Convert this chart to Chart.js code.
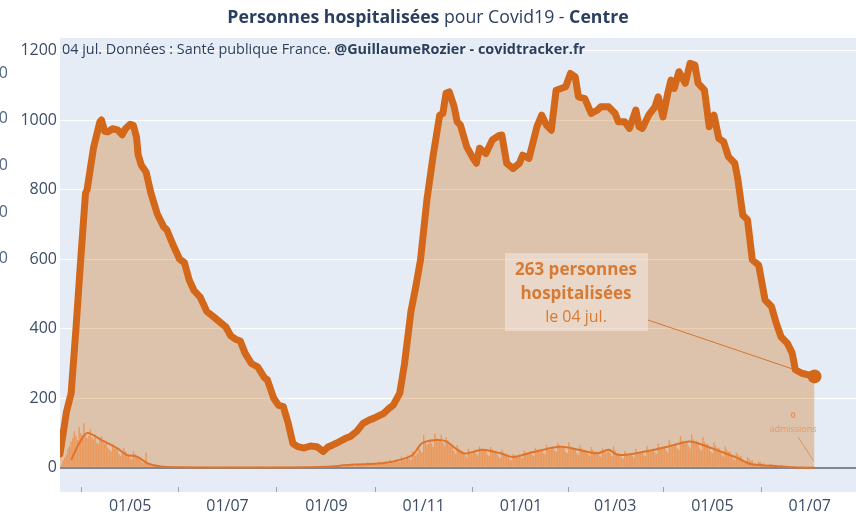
<!DOCTYPE html>
<html>
<head>
<meta charset="utf-8">
<script src="https://cdn.jsdelivr.net/npm/chart.js@4.4.1/dist/chart.umd.min.js"></script>
<style>
  html, body { margin: 0; padding: 0; background: #fff; }
  #wrap { width: 856px; height: 515px; position: relative; }
</style>
</head>
<body>
<div id="wrap"><canvas id="chart" width="856" height="515"></canvas></div>
<script>
/* ---------- data ---------- */
const hospDates = [
  "2020-03-18","2020-03-20","2020-03-22","2020-03-25","2020-03-28","2020-03-31","2020-04-03","2020-04-04",
  "2020-04-08","2020-04-12","2020-04-13","2020-04-15","2020-04-17","2020-04-20","2020-04-23","2020-04-26",
  "2020-04-28","2020-05-01","2020-05-03","2020-05-05","2020-05-06","2020-05-08","2020-05-11","2020-05-14",
  "2020-05-18","2020-05-22","2020-05-24","2020-05-28","2020-06-01","2020-06-04","2020-06-07","2020-06-10",
  "2020-06-14","2020-06-18","2020-06-22","2020-06-26","2020-06-30","2020-07-03","2020-07-06","2020-07-09",
  "2020-07-12","2020-07-16","2020-07-20","2020-07-24","2020-07-26","2020-07-30","2020-08-02","2020-08-05",
  "2020-08-08","2020-08-11","2020-08-14","2020-08-18","2020-08-22","2020-08-26","2020-08-30","2020-09-02",
  "2020-09-05","2020-09-09","2020-09-13","2020-09-16","2020-09-20","2020-09-24","2020-09-28","2020-10-01",
  "2020-10-04","2020-10-07","2020-10-10","2020-10-13","2020-10-17","2020-10-20","2020-10-24","2020-10-27",
  "2020-10-30","2020-11-03","2020-11-07","2020-11-11","2020-11-13","2020-11-15","2020-11-17","2020-11-20",
  "2020-11-22","2020-11-24","2020-11-28","2020-12-02","2020-12-04","2020-12-06","2020-12-10","2020-12-14",
  "2020-12-18","2020-12-20","2020-12-23","2020-12-27","2020-12-31","2021-01-02","2021-01-06","2021-01-11",
  "2021-01-14","2021-01-17","2021-01-20","2021-01-23","2021-01-29","2021-02-01","2021-02-04","2021-02-06",
  "2021-02-10","2021-02-14","2021-02-18","2021-02-20","2021-02-25","2021-03-01","2021-03-03","2021-03-07",
  "2021-03-10","2021-03-14","2021-03-16","2021-03-18","2021-03-22","2021-03-26","2021-03-28","2021-03-31",
  "2021-04-03","2021-04-05","2021-04-07","2021-04-10","2021-04-14","2021-04-17","2021-04-20","2021-04-22",
  "2021-04-26","2021-04-29","2021-05-02","2021-05-05","2021-05-08","2021-05-11","2021-05-15","2021-05-17",
  "2021-05-20","2021-05-23","2021-05-26","2021-05-30","2021-06-03","2021-06-07","2021-06-10","2021-06-13",
  "2021-06-17","2021-06-20","2021-06-22","2021-06-26","2021-07-04"
];
const hospValues = [
  40, 100, 160, 215, 400, 600, 790, 800,
  920, 995, 1000, 968, 966, 975, 972, 958,
  975, 988, 985, 950, 900, 870, 850, 790,
  730, 693, 684, 640, 600, 590, 540, 510,
  490, 450, 435, 420, 405, 380, 370, 365,
  330, 300, 290, 260, 253, 200, 180, 176,
  130, 70, 61, 57, 63, 61, 47, 60,
  66, 75, 85, 90, 105, 128, 138, 143,
  150, 157, 170, 181, 215, 300, 450, 520,
  598, 770, 900, 1014, 1019, 1077, 1081, 1040,
  995, 986, 923, 890, 876, 919, 904, 943,
  955, 957, 876, 861, 876, 899, 890, 981,
  1014, 985, 971, 1086, 1096, 1134, 1124, 1067,
  1062, 1019, 1029, 1038, 1038, 1019, 995, 995,
  976, 1029, 981, 976, 1014, 1038, 1067, 1009,
  1077, 1115, 1091, 1139, 1106, 1163, 1158, 1106,
  1086, 981, 1014, 947, 938, 895, 876, 828,
  727, 713, 598, 583, 483, 464, 416, 377,
  358, 330, 282, 272, 263
];

// daily new admissions, one row per week, first day 2020-03-19
const admStart = "2020-03-19";
const admissions = [
  10, 22, 30, 38, 55, 62, 75,
  85, 105, 92, 80, 118, 100, 95,
  128, 98, 86, 92, 110, 88, 82,
  96, 72, 68, 84, 90, 78, 70,
  74, 58, 52, 48, 68, 62, 55,
  56, 40, 34, 44, 58, 48, 38,
  36, 28, 24, 48, 40, 34, 30,
  26, 18, 14, 20, 44, 16, 12,
  10, 7, 5, 9, 8, 6, 5,
  4, 3, 2, 4, 5, 3, 2,
  3, 2, 1, 3, 2, 1, 2,
  2, 1, 1, 2, 3, 1, 1,
  2, 1, 0, 2, 1, 1, 2,
  1, 1, 0, 2, 1, 0, 1,
  1, 0, 0, 1, 2, 1, 0,
  1, 1, 0, 1, 0, 1, 1,
  0, 1, 0, 1, 1, 0, 1,
  1, 0, 0, 1, 1, 1, 0,
  1, 1, 0, 2, 1, 0, 1,
  1, 0, 1, 1, 2, 1, 0,
  2, 1, 0, 1, 1, 2, 1,
  1, 2, 0, 1, 2, 1, 1,
  2, 1, 1, 3, 2, 1, 2,
  3, 2, 1, 4, 3, 2, 3,
  5, 3, 2, 6, 5, 4, 6,
  7, 5, 4, 9, 8, 6, 7,
  10, 7, 5, 12, 10, 8, 11,
  12, 9, 7, 16, 13, 11, 14,
  15, 11, 9, 18, 16, 13, 17,
  19, 14, 12, 24, 20, 17, 22,
  25, 18, 16, 32, 27, 22, 28,
  36, 26, 22, 48, 40, 34, 42,
  58, 50, 44, 95, 72, 66, 70,
  82, 70, 60, 98, 85, 76, 80,
  96, 72, 64, 88, 80, 70, 68,
  60, 48, 40, 66, 55, 48, 50,
  44, 36, 30, 55, 48, 40, 46,
  52, 40, 36, 62, 55, 50, 54,
  50, 38, 34, 60, 52, 46, 48,
  42, 32, 28, 52, 44, 38, 42,
  34, 24, 22, 40, 36, 30, 32,
  38, 30, 28, 50, 44, 40, 46,
  48, 38, 34, 58, 52, 46, 50,
  54, 42, 40, 66, 58, 52, 56,
  62, 50, 46, 72, 66, 60, 62,
  60, 46, 42, 74, 62, 56, 58,
  54, 42, 38, 64, 56, 50, 52,
  48, 40, 34, 60, 52, 46, 48,
  46, 36, 32, 56, 48, 44, 46,
  48, 42, 34, 62, 50, 40, 44,
  38, 30, 26, 48, 42, 36, 38,
  42, 34, 30, 54, 46, 40, 44,
  48, 38, 34, 62, 52, 46, 50,
  56, 44, 40, 70, 60, 54, 58,
  62, 50, 44, 80, 68, 62, 66,
  70, 56, 52, 92, 78, 70, 74,
  76, 62, 56, 96, 82, 74, 78,
  70, 56, 50, 88, 76, 68, 70,
  58, 46, 42, 74, 64, 56, 58,
  48, 36, 32, 62, 52, 46, 48,
  34, 26, 22, 44, 38, 32, 34,
  24, 16, 14, 30, 26, 20, 22,
  14, 10, 8, 18, 16, 12, 13,
  9, 6, 5, 12, 10, 7, 8,
  7, 4, 4, 9, 7, 5, 6,
  3, 2, 2, 5, 4, 3, 3,
  2, 1, 1, 3, 2, 2, 2,
  1, 1, 1, 0
];

// smoothed admissions line (7-day average as drawn)
const admAvgDates = [
  "2020-03-25","2020-03-30","2020-04-04","2020-04-13","2020-04-23","2020-04-29","2020-05-05","2020-05-12",
  "2020-05-20","2020-06-01","2020-07-01","2020-08-01","2020-09-01","2020-09-16","2020-10-06","2020-10-17",
  "2020-10-25","2020-10-31","2020-11-09","2020-11-15","2020-11-26","2020-12-08","2020-12-19","2020-12-27",
  "2021-01-06","2021-01-25","2021-02-06","2021-02-18","2021-02-25","2021-03-03","2021-03-20","2021-04-03",
  "2021-04-16","2021-04-22","2021-05-06","2021-05-17","2021-05-25","2021-06-07","2021-06-19","2021-07-04"
];
const admAvgValues = [
  23, 70, 100, 80, 56, 37, 33, 13,
  4, 2, 1, 1, 3, 9, 13, 23,
  37, 71, 80, 76, 42, 52, 42, 31,
  42, 61, 52, 42, 52, 37, 47, 61,
  76, 71, 47, 28, 11, 6, 2, 0
];

const xTickDates = ["2020-05-01","2020-07-01","2020-09-01","2020-11-01","2021-01-01","2021-03-01","2021-05-01","2021-07-01"];
const xTickLabels = ["01/05","01/07","01/09","01/11","01/01","01/03","01/05","01/07"];
const yTicks = [0, 200, 400, 600, 800, 1000, 1200];
const xRange = ["2020-03-18", "2021-07-30"];
const yRange = [-55, 1236];

/* ---------- helpers ---------- */
function day(s) {
  const [y, m, d] = s.split("-").map(Number);
  return Date.UTC(y, m - 1, d) / 864e5;
}

const ORANGE = "rgb(212,104,26)";
const TEXT = "#2a3f5f";
const FONT = "'Open Sans', 'Noto Sans', sans-serif";

const hospPoints = hospDates.map((d, i) => ({ x: day(d), y: hospValues[i] }));
const admPoints = admissions.map((v, i) => ({ x: day(admStart) + i, y: v }));
const avgPoints = admAvgDates.map((d, i) => ({ x: day(d), y: admAvgValues[i] }));

/* ---------- plugins ---------- */
const plotBg = {
  id: "plotBg",
  beforeDraw(chart) {
    const { ctx, chartArea: a } = chart;
    ctx.save();
    ctx.fillStyle = "#e5ecf6";
    ctx.fillRect(a.left, a.top, a.right - a.left, a.bottom + 5 - a.top);
    ctx.restore();
  }
};

const texts = {
  id: "texts",
  afterDraw(chart) {
    const { ctx } = chart;
    const xs = chart.scales.x, ys = chart.scales.y;
    ctx.save();

    // title, mixed weights
    const parts = [
      ["bold", "Personnes hospitalisées"],
      ["normal", " pour Covid19 - "],
      ["bold", "Centre"]
    ];
    const tSize = "17.7px ";
    let total = 0;
    parts.forEach(p => { ctx.font = p[0] + " " + tSize + FONT; total += ctx.measureText(p[1]).width; });
    let tx = 428 - total / 2;
    ctx.fillStyle = TEXT;
    ctx.textBaseline = "middle";
    parts.forEach(p => {
      ctx.font = p[0] + " " + tSize + FONT;
      ctx.fillText(p[1], tx, 18);
      tx += ctx.measureText(p[1]).width;
    });

    // source line
    const src = [
      ["normal", "04 jul. Données : Santé publique France. "],
      ["bold", "@GuillaumeRozier - covidtracker.fr"]
    ];
    tx = 62;
    src.forEach(p => {
      ctx.font = p[0] + " 14.4px " + FONT;
      ctx.fillText(p[1], tx, 50);
      tx += ctx.measureText(p[1]).width;
    });

    // cut-off labels of a neighbouring axis at the left edge
    ctx.fillStyle = "#506784";
    ctx.font = "16px " + FONT;
    ctx.textAlign = "right";
    [73, 118, 165, 212, 258].forEach(y => ctx.fillText("00", 8, y));

    // callout for last hospital value
    const lastH = hospPoints[hospPoints.length - 1];
    const px = xs.getPixelForValue(lastH.x), py = ys.getPixelForValue(lastH.y);
    ctx.strokeStyle = "rgba(212,104,26,0.85)";
    ctx.lineWidth = 1;
    ctx.beginPath();
    ctx.moveTo(648, 320);
    ctx.lineTo(px, py);
    ctx.stroke();

    ctx.fillStyle = "rgba(255,255,255,0.35)";
    ctx.fillRect(505, 253, 143, 78);
    ctx.textAlign = "center";
    ctx.fillStyle = "rgb(214,122,52)";
    ctx.font = "bold 17px " + FONT;
    ctx.fillText(lastH.y + " personnes", 576, 270);
    ctx.fillText("hospitalisées", 576, 294);
    ctx.font = "16px " + FONT;
    ctx.fillText("le 04 jul.", 576, 317);

    // callout for last admissions value
    const lastA = admPoints[admPoints.length - 1];
    const ax = xs.getPixelForValue(lastA.x), ay = ys.getPixelForValue(lastA.y);
    ctx.strokeStyle = "rgba(226,140,80,0.9)";
    ctx.beginPath();
    ctx.moveTo(798, 437);
    ctx.lineTo(ax - 1, ay - 7);
    ctx.stroke();
    ctx.fillStyle = "rgb(232,150,92)";
    ctx.font = "bold 9px " + FONT;
    ctx.fillText(String(lastA.y), 793, 415);
    ctx.font = "9px " + FONT;
    ctx.fillText("admissions", 793, 429);

    ctx.restore();
  }
};

/* ---------- chart ---------- */
new Chart(document.getElementById("chart"), {
  data: {
    datasets: [
      {
        type: "line",
        data: hospPoints,
        borderColor: ORANGE,
        backgroundColor: "rgba(209,119,35,0.35)",
        fill: "origin",
        borderWidth: 7,
        borderJoinStyle: "round",
        borderCapStyle: "round",
        tension: 0,
        pointRadius: ctx => (ctx.dataIndex === hospPoints.length - 1 ? 7 : 0),
        pointBackgroundColor: ORANGE,
        pointBorderWidth: 0,
        order: 1
      },
      {
        type: "line",
        data: avgPoints,
        borderColor: "rgb(222,116,44)",
        borderWidth: 2,
        tension: 0.3,
        pointRadius: 0,
        fill: false,
        order: 2
      },
      {
        type: "bar",
        data: admPoints,
        backgroundColor: "rgba(236,144,76,0.85)",
        barPercentage: 0.9,
        categoryPercentage: 1,
        order: 3
      }
    ]
  },
  options: {
    responsive: false,
    animation: false,
    layout: { autoPadding: false, padding: { top: 38, left: 0, right: 0, bottom: 0 } },
    plugins: {
      legend: { display: false },
      tooltip: { enabled: false },
      filler: { drawTime: "beforeDatasetsDraw" }
    },
    scales: {
      x: {
        type: "linear",
        min: day(xRange[0]),
        max: day(xRange[1]),
        offset: false,
        border: { display: false },
        grid: { drawOnChartArea: false, drawTicks: true, tickLength: 5, color: "#9aa3b0" },
        afterBuildTicks: s => { s.ticks = xTickDates.map(d => ({ value: day(d) })); },
        afterFit: s => { s.height = 28; },
        ticks: {
          autoSkip: false,
          maxRotation: 0,
          padding: 5,
          color: "#3c4d66",
          font: { family: FONT, size: 16 },
          callback: (v, i) => xTickLabels[i]
        }
      },
      y: {
        type: "linear",
        min: yRange[0],
        max: yRange[1],
        border: { display: false },
        afterBuildTicks: s => { s.ticks = yTicks.map(v => ({ value: v })); },
        afterFit: s => { s.width = 60; },
        grid: {
          drawTicks: false,
          color: c => (c.tick && c.tick.value === 0 ? "#7d8796" : "#ffffff"),
          lineWidth: c => (c.tick && c.tick.value === 0 ? 2 : 1)
        },
        ticks: {
          padding: 3,
          color: "#3c4d66",
          font: { family: FONT, size: 16 },
          callback: v => String(v)
        }
      }
    }
  },
  plugins: [plotBg, texts]
});
</script>
</body>
</html>
